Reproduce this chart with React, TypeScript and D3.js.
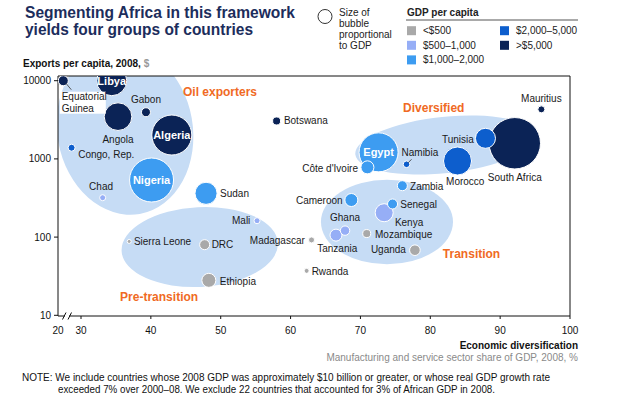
import React from "react";
import * as d3 from "d3";

// countries
const countries = [
  "Equatorial Guinea", "Libya", "Angola", "Gabon", "Algeria", "Congo, Rep.", "Nigeria", "Chad",
  "Sudan", "Botswana", "Mauritius", "South Africa", "Tunisia", "Morocco", "Namibia", "Egypt",
  "Côte d'Ivoire", "Zambia", "Cameroon", "Senegal", "Kenya", "Ghana", "Tanzania", "Mozambique",
  "Uganda", "Madagascar", "Rwanda", "Mali", "Sierra Leone", "DRC", "Ethiopia",
];
// manufacturing and service share of GDP, %
const diversification = [
  22.3, 34.4, 35.3, 39.3, 43.0, 25.9, 40.1, 33.1,
  47.9, 58.0, 95.9, 92.1, 87.9, 83.9, 76.6, 72.6,
  71.0, 76.0, 68.7, 74.6, 73.4, 67.8, 66.5, 70.9,
  77.8, 63.0, 62.3, 55.2, 36.9, 47.7, 48.3,
];
// exports per capita, 2008, $
const exportsPerCapita = [
  10000, 10000, 3470, 3950, 2020, 1390, 537, 319,
  363, 3055, 4300, 1585, 1834, 940, 853, 1213,
  780, 454, 298, 265, 205, 121, 106, 111,
  68, 92, 37, 162, 88, 80, 28,
];
// GDP, $ billion (bubble area)
const gdp = [
  10.5, 94, 80, 8.5, 167, 5.1, 202, 3.8,
  51, 6.7, 5.1, 276, 42, 82, 4.6, 159,
  17.7, 10.5, 17.7, 10.5, 34, 9.2, 15, 6.7,
  11.8, 3.8, 2.6, 3.8, 1.7, 10.5, 20.5,
];
// GDP per capita band (index into bandLabels)
const gdpBand = [
  4, 4, 4, 4, 4, 3, 2, 1,
  2, 4, 4, 4, 3, 3, 3, 2,
  2, 2, 2, 2, 1, 1, 1, 0,
  0, 0, 0, 1, 0, 0, 0,
];
const bandLabels = ["<$500", "$500–1,000", "$1,000–2,000", "$2,000–5,000", ">$5,000"];
const bandColors = ["#a9a9a9", "#96aef6", "#3d9cf1", "#0d5ecd", "#0b2356"];

const xTicks = [20, 30, 40, 50, 60, 70, 80, 90, 100];
const yTicks = [10, 100, 1000, 10000];

// group regions: centre (diversification, exports), half-width in % points, half-height in decades, tilt
const groupNames = ["Oil exporters", "Diversified", "Pre-transition", "Transition"];
const groupCx = [36.3, 82.1, 47.0, 73.8];
const groupCy = [2340, 1507, 74.6, 156];
const groupRx = [9.7, 12.9, 11.2, 9.45];
const groupRy = [1.09, 0.36, 0.51, 0.54];
const groupTilt = [-10, -6, -3, 0];
// group label anchors (diversification, exports)
const groupLabelX = [44.6, 76.1, 35.6, 81.8];
const groupLabelY = [6370, 3980, 15.2, 54];

// label placement: [anchor, dx, dy], "in" = white text inside the bubble
const labelPlace: Record<string, [string, number, number]> = {
  "Gabon": ["middle", 0, -9.5],
  "Angola": ["middle", 0, 26],
  "Congo, Rep.": ["start", 6.6, 10],
  "Chad": ["middle", -1.6, -7.5],
  "Sudan": ["start", 14, 3.5],
  "Botswana": ["start", 7.3, 3.5],
  "Mauritius": ["middle", 0, -7.5],
  "South Africa": ["middle", 0, 38],
  "Tunisia": ["end", -11.7, 4.5],
  "Morocco": ["middle", 7.7, 24],
  "Namibia": ["start", -5, -8],
  "Côte d'Ivoire": ["end", -9.4, 4.5],
  "Zambia": ["start", 7.7, 4.5],
  "Cameroon": ["end", -8.7, 3.5],
  "Senegal": ["start", 7.7, 3.8],
  "Kenya": ["start", 10.7, 13],
  "Ghana": ["middle", 0, -9.5],
  "Tanzania": ["middle", 1.3, 16.8],
  "Mozambique": ["start", 8.3, 4.8],
  "Uganda": ["end", -9, 2.5],
  "Madagascar": ["end", -6.7, 4.2],
  "Rwanda": ["start", 5, 4.2],
  "Mali": ["end", -6.7, 2.8],
  "Sierra Leone": ["start", 4.7, 3.9],
  "DRC": ["start", 7, 3.8],
  "Ethiopia": ["start", 11, 4.2],
  "Libya": ["in", 0, 4],
  "Algeria": ["in", 0, 4],
  "Nigeria": ["in", 0, 4],
  "Egypt": ["in", 0, 4],
};

const W = 617, H = 395;
const plotLeft = 58, plotRight = 570, plotTop = 76, plotBottom = 316;
const FONT = "'Liberation Sans', Arial, sans-serif";
const ORANGE = "#f06a24";

export default function App() {
  const x = d3.scaleLinear().domain([20, 30, 100]).range([58, 81, 570]);
  const y = d3.scaleLog().domain([10, 10000]).range([315.3, 80.7]);
  const r = d3.scaleSqrt().domain([0, 276]).range([0, 25.7]);
  const decade = (y(10) - y(100));

  const rows = countries.map((name, i) => ({
    name, dx: diversification[i], ex: exportsPerCapita[i], gdp: gdp[i], band: gdpBand[i],
  }));
  const drawOrder = [...rows].sort((a, b) => d3.descending(a.gdp, b.gdp));

  const eqg = rows[0];
  const eqx = x(eqg.dx), eqy = y(eqg.ex);
  const nam = rows[countries.indexOf("Namibia")];

  return (
    <svg width={W} height={H} style={{ position: "absolute", left: 0, top: 0, fontFamily: FONT }}>
      <defs>
        <clipPath id="plot">
          <rect x={plotLeft} y={plotTop} width={plotRight - plotLeft} height={plotBottom - plotTop} />
        </clipPath>
      </defs>
      <rect width={W} height={H} fill="#fff" />

      {/* title */}
      <text x={25} y={18} fontSize={17} fontWeight="bold" fill="#1c2d5c" textLength={270} lengthAdjust="spacingAndGlyphs">
        Segmenting Africa in this framework
      </text>
      <text x={25} y={35} fontSize={17} fontWeight="bold" fill="#1c2d5c" textLength={228} lengthAdjust="spacingAndGlyphs">
        yields four groups of countries
      </text>

      {/* size legend */}
      <circle cx={325} cy={16.5} r={7} fill="none" stroke="#333" strokeWidth={1} />
      {["Size of", "bubble", "proportional", "to GDP"].map((t, i) => (
        <text key={t} x={339} y={15.5 + i * 11.3} fontSize={10} fill="#222">{t}</text>
      ))}

      {/* GDP per capita legend */}
      <text x={407} y={15.5} fontSize={10} fontWeight="bold" fill="#222">GDP per capita</text>
      <line x1={406} x2={578} y1={20} y2={20} stroke="#555" strokeWidth={1} />
      {bandLabels.map((lab, i) => {
        const col = i < 3 ? 0 : 1;
        const row = i < 3 ? i : i - 3;
        const lx = col === 0 ? 407 : 500;
        const ly = 30.7 + row * 14.6;
        return (
          <g key={lab}>
            <rect x={lx} y={ly - 4.5} width={9} height={9} fill={bandColors[i]} />
            <text x={lx + 16} y={ly + 3.5} fontSize={10} fill="#222">{lab}</text>
          </g>
        );
      })}

      {/* y axis title */}
      <text x={23} y={67} fontSize={10} fontWeight="bold" fill="#111">
        Exports per capita, 2008, <tspan fill="#999">$</tspan>
      </text>

      {/* group regions */}
      <g clipPath="url(#plot)">
        {groupNames.map((g, i) => (
          <ellipse
            key={g}
            cx={0} cy={0}
            rx={x(groupCx[i] + groupRx[i]) - x(groupCx[i])}
            ry={groupRy[i] * decade}
            transform={`translate(${x(groupCx[i])},${y(groupCy[i])}) rotate(${groupTilt[i]})`}
            fill="#c6dcf5"
          />
        ))}
      </g>

      {/* frame and axes */}
      <line x1={plotLeft} x2={plotRight} y1={plotTop} y2={plotTop} stroke="#111" />
      <line x1={plotRight} x2={plotRight} y1={plotTop} y2={plotBottom} stroke="#111" />
      <line x1={plotLeft} x2={plotLeft} y1={plotTop} y2={plotBottom} stroke="#111" />
      <line x1={plotLeft} x2={plotRight} y1={plotBottom} y2={plotBottom} stroke="#111" />

      {/* bubbles */}
      <g clipPath="url(#plot)">
        {drawOrder.map((d) => (
          <circle key={d.name} cx={x(d.dx)} cy={y(d.ex)} r={r(d.gdp)}
            fill={bandColors[d.band]} stroke="#fff" strokeWidth={1} />
        ))}
      </g>

      {/* leader lines */}
      <line x1={eqx + 3} y1={eqy + 3} x2={eqx + 8} y2={eqy + 9} stroke="#333" strokeWidth={0.8} />
      <line x1={x(nam.dx) + 1.5} y1={y(nam.ex) - 1.5} x2={x(nam.dx) + 5} y2={y(nam.ex) - 5} stroke="#333" strokeWidth={0.8} />

      {/* Equatorial Guinea label on white */}
      <rect x={eqx - 3.5} y={eqy + 11} width={46} height={22} fill="#fff" />
      <text x={eqx - 1.6} y={eqy + 19.5} fontSize={10} fill="#1a1a1a">Equatorial</text>
      <text x={eqx - 1.6} y={eqy + 31} fontSize={10} fill="#1a1a1a">Guinea</text>

      {/* country labels */}
      {rows.filter((d) => labelPlace[d.name]).map((d) => {
        const [anchor, ddx, ddy] = labelPlace[d.name];
        const inside = anchor === "in";
        return (
          <text key={d.name}
            x={x(d.dx) + ddx} y={y(d.ex) + ddy}
            textAnchor={inside ? "middle" : anchor}
            fontSize={inside ? 11 : 10}
            fontWeight={inside ? "bold" : "normal"}
            fill={inside ? "#fff" : "#1a1a1a"}>
            {d.name}
          </text>
        );
      })}

      {/* group labels */}
      {groupNames.map((g, i) => (
        <text key={g} x={x(groupLabelX[i])} y={y(groupLabelY[i])} fontSize={12} fontWeight="bold" fill={ORANGE}>
          {g}
        </text>
      ))}

      {/* y ticks */}
      {yTicks.map((t) => (
        <g key={t}>
          <line x1={plotLeft - 4} x2={plotLeft} y1={y(t)} y2={y(t)} stroke="#111" />
          <text x={51} y={y(t) + 3.5} fontSize={10} textAnchor="end" fill="#111">{t}</text>
        </g>
      ))}

      {/* x ticks */}
      {xTicks.map((t) => (
        <g key={t}>
          {t > 20 && <line x1={x(t)} x2={x(t)} y1={plotBottom} y2={plotBottom + 3} stroke="#111" />}
          <text x={x(t)} y={334} fontSize={10} textAnchor="middle" fill="#111">{t}</text>
        </g>
      ))}

      {/* axis break */}
      <rect x={65} y={plotBottom - 1.5} width={4} height={3} fill="#fff" />
      <line x1={62.5} y1={plotBottom + 3.5} x2={66} y2={plotBottom - 3.5} stroke="#111" />
      <line x1={68} y1={plotBottom + 3.5} x2={71.5} y2={plotBottom - 3.5} stroke="#111" />

      {/* x axis title */}
      <text x={578} y={349} fontSize={10} fontWeight="bold" textAnchor="end" fill="#111">Economic diversification</text>
      <text x={578} y={361} fontSize={10} textAnchor="end" fill="#8a8a8a">
        Manufacturing and service sector share of GDP, 2008, %
      </text>

      {/* note */}
      <text x={22} y={381} fontSize={10} fill="#111" textLength={528} lengthAdjust="spacingAndGlyphs">
        NOTE: We include countries whose 2008 GDP was approximately $10 billion or greater, or whose real GDP growth rate
      </text>
      <text x={58} y={393} fontSize={10} fill="#111" textLength={437} lengthAdjust="spacingAndGlyphs">
        exceeded 7% over 2000–08. We exclude 22 countries that accounted for 3% of African GDP in 2008.
      </text>
    </svg>
  );
}
